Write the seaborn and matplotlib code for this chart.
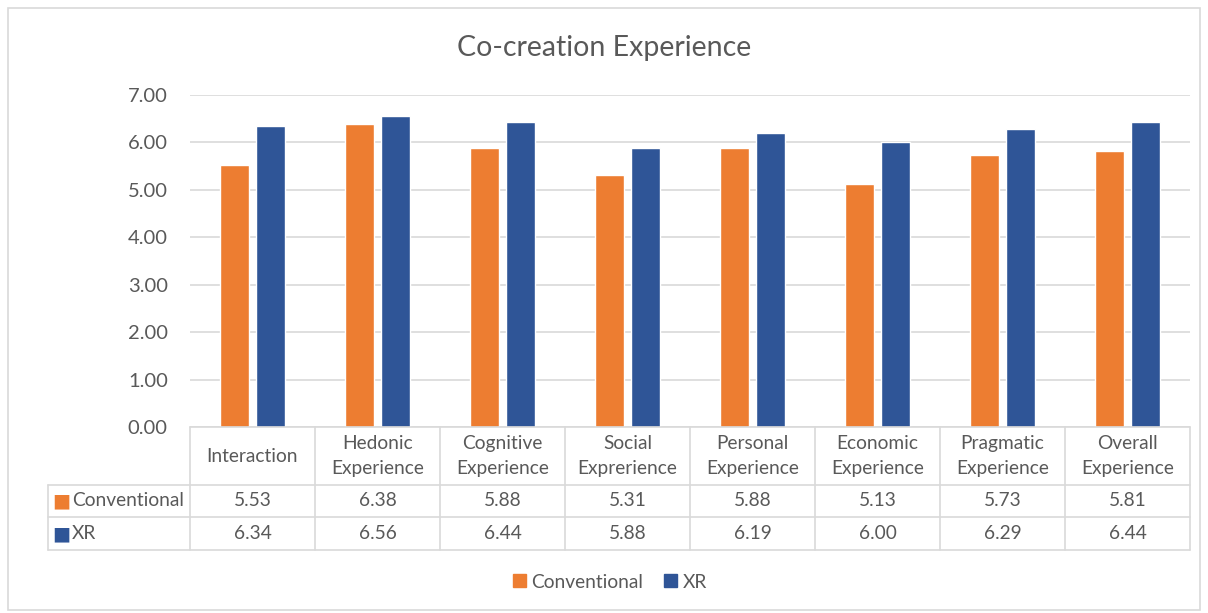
import matplotlib
matplotlib.use("Agg")
import matplotlib.pyplot as plt
import matplotlib.transforms as mtransforms
from matplotlib.patches import Rectangle
import seaborn as sns
import pandas as pd

categories = ["Interaction", "Hedonic\nExperience", "Cognitive\nExperience", "Social\nExprerience",
              "Personal\nExperience", "Economic\nExperience", "Pragmatic\nExperience", "Overall\nExperience"]
series_names = ["Conventional", "XR"]
conventional = [5.53, 6.38, 5.88, 5.31, 5.88, 5.13, 5.73, 5.81]
xr = [6.34, 6.56, 6.44, 5.88, 6.19, 6.00, 6.29, 6.44]
yticks = [0, 1, 2, 3, 4, 5, 6, 7]

colors = {"Conventional": "#ED7D31", "XR": "#2F5597"}
text_color = "#595959"
line_color = "#D9D9D9"

sns.set_theme(style="white")
plt.rcParams["font.family"] = ["Lato", "DejaVu Sans"]

df = pd.DataFrame({
    "category": categories * 2,
    "series": [series_names[0]] * len(categories) + [series_names[1]] * len(categories),
    "value": conventional + xr,
})

fig = plt.figure(figsize=(12.08, 6.13), dpi=100)
ax = fig.add_axes([190 / 1208, 1 - 427 / 613, 1000 / 1208, 332 / 613])

sns.barplot(data=df, x="category", y="value", hue="series", palette=colors,
            width=0.576, gap=0.22, ax=ax, legend=False, saturation=1)

fs = 13.8
ax.set_ylim(0, 7)
ax.set_xlim(-0.5, len(categories) - 0.5)
ax.set_yticks(yticks)
ax.set_yticklabels([f"{v:.2f}" for v in yticks], fontsize=fs + 0.7, color=text_color)
ax.tick_params(axis="y", length=0, pad=16)
ax.set_xticks([])
ax.set_xlabel("")
ax.set_ylabel("")
for s in ax.spines.values():
    s.set_visible(False)
ax.yaxis.grid(True, color=line_color, linewidth=1.2)
ax.set_axisbelow(True)

# Data table under the plot
trans = mtransforms.blended_transform_factory(ax.transData, ax.transAxes)
ax_h = 332.0
y_top = 0.0
y_hdr = -58 / ax_h
y_r1 = -90 / ax_h
y_r2 = -123 / ax_h
x_lab = (48 - 190) / 125.0 - 0.5
n = len(categories)

def hline(x0, x1, y):
    ax.plot([x0, x1], [y, y], color=line_color, lw=1.2, transform=trans, clip_on=False)

def vline(x, y0, y1):
    ax.plot([x, x], [y0, y1], color=line_color, lw=1.2, transform=trans, clip_on=False)

hline(-0.5, n - 0.5, y_top)
hline(x_lab, n - 0.5, y_hdr)
hline(x_lab, n - 0.5, y_r1)
hline(x_lab, n - 0.5, y_r2)
for i in range(n + 1):
    vline(i - 0.5, y_top, y_r2)
vline(x_lab, y_hdr, y_r2)

for i, c in enumerate(categories):
    ax.text(i, (y_top + y_hdr) / 2, c, ha="center", va="center", fontsize=fs,
            color=text_color, transform=trans, linespacing=1.55)
    ax.text(i, (y_hdr + y_r1) / 2, f"{conventional[i]:.2f}", ha="center", va="center",
            fontsize=fs, color=text_color, transform=trans)
    ax.text(i, (y_r1 + y_r2) / 2, f"{xr[i]:.2f}", ha="center", va="center",
            fontsize=fs, color=text_color, transform=trans)

# row labels with color keys
for name, (ya, yb) in zip(series_names, [(y_hdr, y_r1), (y_r1, y_r2)]):
    yc = (ya + yb) / 2
    ax.text(x_lab + 0.03, yc, "\u25A0", ha="left", va="center", fontsize=fs,
            color=colors[name], transform=trans, family="DejaVu Sans")
    ax.text(x_lab + 0.19, yc, name, ha="left", va="center", fontsize=fs,
            color=text_color, transform=trans)

fig.suptitle("Co-creation Experience", y=1 - 48 / 613, va="center", fontsize=20.5, color=text_color)

handles = [Rectangle((0, 0), 1, 1, color=colors[s]) for s in series_names]
fig.legend(handles, series_names, loc="center", bbox_to_anchor=(610 / 1208, 1 - 582 / 613),
           ncol=2, frameon=False, fontsize=fs, handlelength=0.65, handleheight=0.65,
           handletextpad=0.3, columnspacing=1.1, labelcolor=text_color)

fig.patches.append(Rectangle((8 / 1208, 3 / 613), 1192 / 1208, 602 / 613, transform=fig.transFigure,
                             fill=False, edgecolor=line_color, lw=1.2))

fig.savefig("out.png", dpi=100, facecolor="white")
